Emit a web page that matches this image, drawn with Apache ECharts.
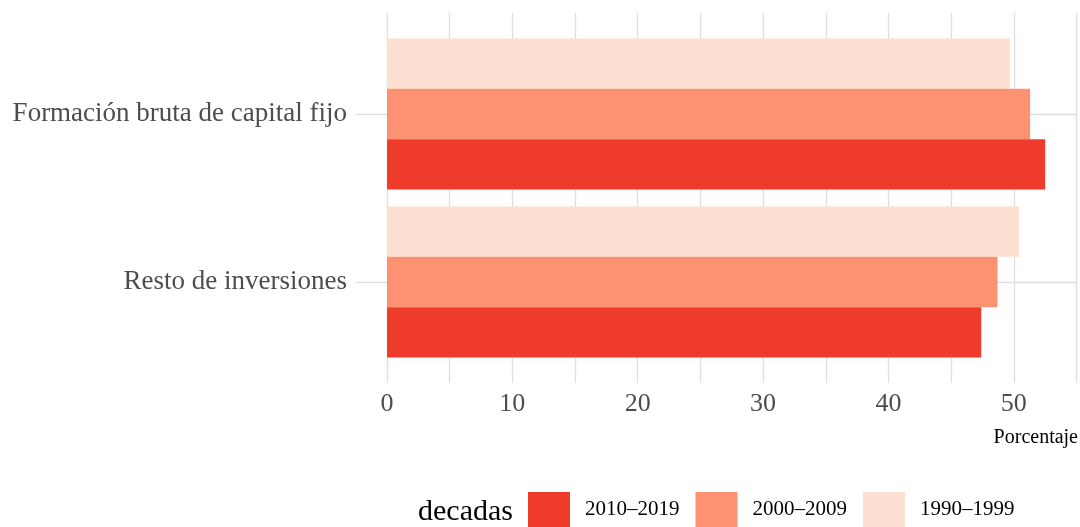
<!DOCTYPE html>
<html>
<head>
<meta charset="utf-8">
<script src="https://cdn.jsdelivr.net/npm/echarts@6/dist/echarts.min.js"></script>
<style>html,body{margin:0;padding:0;background:#fff}#c{width:1080px;height:527px}</style>
</head>
<body>
<div id="c"></div>
<script>
const categories = ['Formación bruta de capital fijo', 'Resto de inversiones'];
const decades = ['1990–1999', '2000–2009', '2010–2019'];
const legendOrder = ['2010–2019', '2000–2009', '1990–1999'];
const v1990 = [49.7, 50.4];
const v2000 = [51.3, 48.7];
const v2010 = [52.5, 47.4];
const seriesValues = [v1990, v2000, v2010];
const colors = ['#fee0d2', '#fc9272', '#ef3b2c'];
const xMin = 0, xMax = 55, xStep = 5, xLabelStep = 10;

const FONT = 'Liberation Serif';
const chart = echarts.init(document.getElementById('c'), null, {renderer: 'canvas'});
const gridLine = {show: true, lineStyle: {color: '#dedede', width: 1.3}};
const L = 387, R = 3.5;

chart.setOption({
  animation: false,
  backgroundColor: '#fff',
  title: [
    {text: 'decadas', left: 418, top: 497, padding: 0, textStyle: {fontFamily: FONT, fontSize: 30, fontWeight: 'normal', color: '#000'}},
    {text: 'Porcentaje', right: 2, top: 428, padding: 0, textStyle: {fontFamily: FONT, fontSize: 20, fontWeight: 'normal', color: '#000'}}
  ],
  legend: {
    data: legendOrder,
    left: 528, top: 492, padding: 0,
    itemWidth: 42, itemHeight: 35, itemGap: 16,
    icon: 'rect',
    textStyle: {fontFamily: FONT, fontSize: 21, color: '#000', padding: [0, 0, 0, 10]}
  },
  grid: [
    {left: L, right: R, top: 13, height: 370},
    {left: L, right: R, top: 114, height: 168},
    {left: L, right: R, top: 30, height: 336}
  ],
  xAxis: [
    {gridIndex: 0, type: 'value', min: xMin, max: xMax, interval: xStep,
     axisLine: {show: false}, axisTick: {show: false}, splitLine: gridLine,
     axisLabel: {margin: 8, fontFamily: FONT, fontSize: 26, color: '#4d4d4d',
       formatter: v => (v % xLabelStep === 0 ? String(v) : '')}},
    {gridIndex: 1, type: 'value', min: xMin, max: xMax, show: false},
    {gridIndex: 2, type: 'value', min: xMin, max: xMax, show: false}
  ],
  yAxis: [
    {gridIndex: 0, type: 'value', show: false},
    {gridIndex: 1, type: 'category', data: categories, inverse: true, boundaryGap: false,
     axisLine: {show: false},
     axisTick: {show: true, length: 32, lineStyle: {color: '#dedede', width: 1.3}},
     splitLine: gridLine,
     axisLabel: {margin: 40, fontFamily: FONT, fontSize: 27, color: '#4d4d4d'}},
    {gridIndex: 2, type: 'category', data: categories, inverse: true, show: false}
  ],
  series: decades.map((d, i) => ({
    name: d, type: 'bar', xAxisIndex: 2, yAxisIndex: 2,
    data: seriesValues[i],
    barCategoryGap: '10%', barGap: '0%',
    itemStyle: {color: colors[i]},
    z: 3
  }))
});
</script>
</body>
</html>
